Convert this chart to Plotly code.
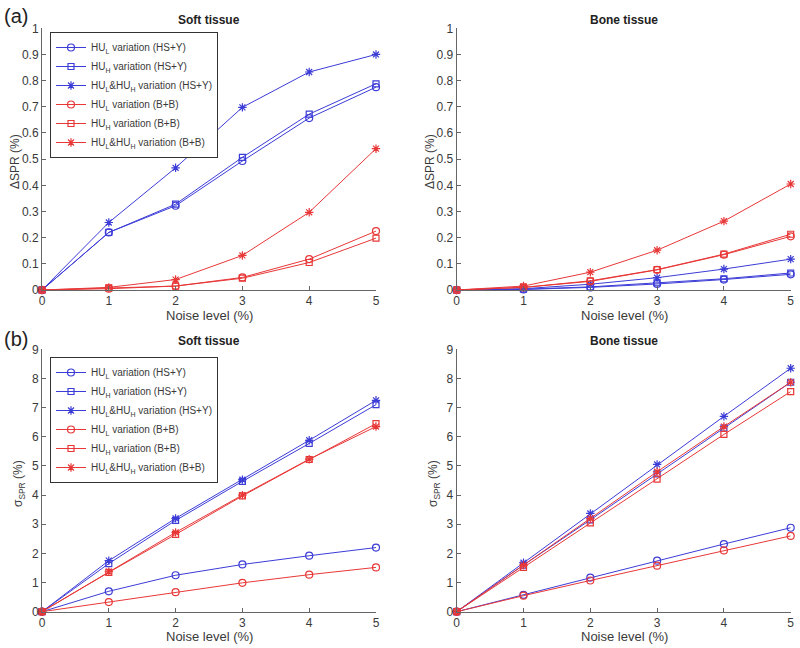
import plotly.graph_objects as go

noise = [0, 1, 2, 3, 4, 5]
x_ticks = [0, 1, 2, 3, 4, 5]

series_names = [
    "HU<sub>L</sub> variation (HS+Y)",
    "HU<sub>H</sub> variation (HS+Y)",
    "HU<sub>L</sub>&HU<sub>H</sub> variation (HS+Y)",
    "HU<sub>L</sub> variation (B+B)",
    "HU<sub>H</sub> variation (B+B)",
    "HU<sub>L</sub>&HU<sub>H</sub> variation (B+B)",
]

# (a) Delta SPR, soft tissue
dspr_soft_hsy_L = [0, 0.220, 0.322, 0.493, 0.657, 0.775]
dspr_soft_hsy_H = [0, 0.220, 0.328, 0.507, 0.672, 0.788]
dspr_soft_hsy_LH = [0, 0.258, 0.467, 0.698, 0.833, 0.900]
dspr_soft_bb_L = [0, 0.005, 0.015, 0.048, 0.118, 0.225]
dspr_soft_bb_H = [0, 0.008, 0.015, 0.045, 0.105, 0.198]
dspr_soft_bb_LH = [0, 0.010, 0.040, 0.132, 0.297, 0.540]

# (a) Delta SPR, bone tissue
dspr_bone_hsy_L = [0, 0.002, 0.010, 0.023, 0.040, 0.060]
dspr_bone_hsy_H = [0, 0.003, 0.012, 0.027, 0.043, 0.065]
dspr_bone_hsy_LH = [0, 0.005, 0.022, 0.047, 0.080, 0.118]
dspr_bone_bb_L = [0, 0.010, 0.033, 0.077, 0.135, 0.205]
dspr_bone_bb_H = [0, 0.010, 0.035, 0.078, 0.137, 0.213]
dspr_bone_bb_LH = [0, 0.015, 0.068, 0.152, 0.263, 0.405]

# (b) sigma SPR, soft tissue
sig_soft_hsy_L = [0, 0.70, 1.25, 1.62, 1.92, 2.20]
sig_soft_hsy_H = [0, 1.65, 3.13, 4.47, 5.77, 7.10]
sig_soft_hsy_LH = [0, 1.75, 3.20, 4.53, 5.88, 7.25]
sig_soft_bb_L = [0, 0.33, 0.67, 0.99, 1.27, 1.52]
sig_soft_bb_H = [0, 1.35, 2.65, 3.97, 5.22, 6.45]
sig_soft_bb_LH = [0, 1.37, 2.72, 4.00, 5.23, 6.35]

# (b) sigma SPR, bone tissue
sig_bone_hsy_L = [0, 0.58, 1.17, 1.75, 2.32, 2.88]
sig_bone_hsy_H = [0, 1.60, 3.15, 4.73, 6.30, 7.87]
sig_bone_hsy_LH = [0, 1.68, 3.37, 5.05, 6.70, 8.35]
sig_bone_bb_L = [0, 0.55, 1.07, 1.58, 2.10, 2.60]
sig_bone_bb_H = [0, 1.52, 3.05, 4.55, 6.08, 7.55]
sig_bone_bb_LH = [0, 1.60, 3.20, 4.80, 6.35, 7.87]

BLUE = "rgb(60,60,215)"
RED = "rgb(232,55,55)"
colors = [BLUE, BLUE, BLUE, RED, RED, RED]
symbols = ["circle-open", "square-open", "asterisk-open"] * 2
sizes = [7, 6, 7] * 2

panels = [
    ("x", "y", [dspr_soft_hsy_L, dspr_soft_hsy_H, dspr_soft_hsy_LH, dspr_soft_bb_L, dspr_soft_bb_H, dspr_soft_bb_LH], "legend"),
    ("x2", "y2", [dspr_bone_hsy_L, dspr_bone_hsy_H, dspr_bone_hsy_LH, dspr_bone_bb_L, dspr_bone_bb_H, dspr_bone_bb_LH], None),
    ("x3", "y3", [sig_soft_hsy_L, sig_soft_hsy_H, sig_soft_hsy_LH, sig_soft_bb_L, sig_soft_bb_H, sig_soft_bb_LH], "legend2"),
    ("x4", "y4", [sig_bone_hsy_L, sig_bone_hsy_H, sig_bone_hsy_LH, sig_bone_bb_L, sig_bone_bb_H, sig_bone_bb_LH], None),
]

fig = go.Figure()
for xa, ya, data, leg in panels:
    for i, vals in enumerate(data):
        kw = dict(legend=leg, showlegend=True) if leg else dict(showlegend=False)
        fig.add_trace(go.Scatter(
            x=noise, y=vals, xaxis=xa, yaxis=ya, name=series_names[i],
            mode="lines+markers", cliponaxis=False,
            line=dict(color=colors[i], width=1),
            marker=dict(symbol=symbols[i], size=sizes[i], color=colors[i],
                        line=dict(color=colors[i], width=1.2)),
            **kw))

FONT = "Liberation Sans, Arial, sans-serif"
TXT = "#3a3a3a"
axis_common = dict(showline=True, linecolor="#666666", linewidth=1, ticks="inside",
                   ticklen=4, tickcolor="#666666", showgrid=False, zeroline=False,
                   automargin=False, tickfont=dict(size=12, color=TXT, family=FONT),
                   mirror=False)

xl = [42 / 800, 376 / 800]
xr = [456.7 / 800, 790.7 / 800]
yt = [1 - 290 / 648, 1 - 28.3 / 648]
yb = [1 - 611.7 / 648, 1 - 349.3 / 648]

def xaxis(dom, anchor):
    return dict(domain=dom, anchor=anchor, range=[0, 5], tickvals=x_ticks, **axis_common)

def yaxis(dom, anchor, rng, dtick):
    return dict(domain=dom, anchor=anchor, range=rng, dtick=dtick, **axis_common)

legend_common = dict(bgcolor="white", bordercolor="#333333", borderwidth=1,
                     font=dict(size=10, color=TXT, family=FONT), xanchor="left", yanchor="top",
                     tracegroupgap=0, itemwidth=30)

fig.update_layout(
    width=800, height=648, margin=dict(l=0, r=0, t=0, b=0, autoexpand=False),
    template="none",
    paper_bgcolor="white", plot_bgcolor="white",
    xaxis=xaxis(xl, "y"), yaxis=yaxis(yt, "x", [0, 1], 0.1),
    xaxis2=xaxis(xr, "y2"), yaxis2=yaxis(yt, "x2", [0, 1], 0.1),
    xaxis3=xaxis(xl, "y3"), yaxis3=yaxis(yb, "x3", [0, 9], 1),
    xaxis4=xaxis(xr, "y4"), yaxis4=yaxis(yb, "x4", [0, 9], 1),
    legend=dict(x=50 / 800, y=1 - 32 / 648, **legend_common),
    legend2=dict(x=50 / 800, y=1 - 357 / 648, **legend_common),
)

def px(x, y):
    return x / 800, 1 - y / 648

# panel titles
for text, cx, cy in [("Soft tissue", 209, 20), ("Bone tissue", 624, 20),
                     ("Soft tissue", 209, 341), ("Bone tissue", 624, 341)]:
    x, y = px(cx, cy)
    fig.add_annotation(text=f"<b>{text}</b>", x=x, y=y, xref="paper", yref="paper",
                       showarrow=False, xanchor="center", yanchor="middle",
                       font=dict(size=12, color="#222222", family=FONT))

# x-axis titles
for cx, cy in [(209, 315), (624, 315), (209, 636), (624, 636)]:
    x, y = px(cx, cy)
    fig.add_annotation(text="Noise level (%)", x=x, y=y, xref="paper", yref="paper",
                       showarrow=False, xanchor="center", yanchor="middle",
                       font=dict(size=13, color=TXT, family=FONT))

# y-axis titles
for text, cx, cy in [("ΔSPR (%)", 15, 162), ("ΔSPR (%)", 430, 162),
                     ("σ<sub>SPR</sub> (%)", 19, 484), ("σ<sub>SPR</sub> (%)", 434, 484)]:
    x, y = px(cx, cy)
    fig.add_annotation(text=text, x=x, y=y, xref="paper", yref="paper", textangle=-90,
                       showarrow=False, xanchor="center", yanchor="middle",
                       font=dict(size=12, color=TXT, family=FONT))

# panel labels
for text, cy in [("(a)", 16), ("(b)", 339)]:
    x, y = px(2, cy)
    fig.add_annotation(text=text, x=x, y=y, xref="paper", yref="paper",
                       showarrow=False, xanchor="left", yanchor="middle",
                       font=dict(size=20, color="#222222", family=FONT))

fig.write_html("out.html", config={"displayModeBar": False},
               post_script="document.body.style.margin='0';document.body.style.padding='0';")
